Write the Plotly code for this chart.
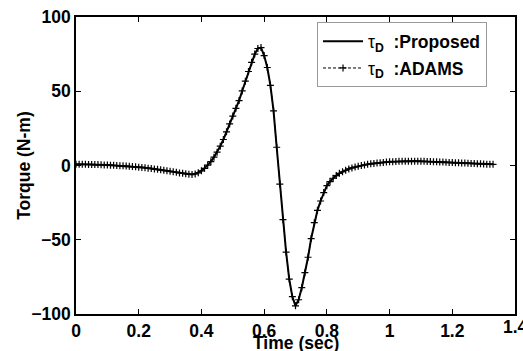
import numpy as np
import plotly.graph_objects as go

# Time samples (s), 0.01 s spacing, 0 .. 1.33
time_s = np.round(np.arange(134) * 0.01, 2).tolist()

# Torque (N-m)
torque_proposed = [
    0.8, 0.8, 0.8, 0.8, 0.7, 0.7, 0.6, 0.6, 0.5, 0.4,
    0.3, 0.2, 0.1, 0.0, -0.1, -0.2, -0.4, -0.5, -0.7, -0.9,
    -1.1, -1.3, -1.5, -1.8, -2.0, -2.3, -2.6, -2.9, -3.2, -3.5,
    -3.9, -4.2, -4.6, -5.0, -5.3, -5.6, -5.9, -6.0, -5.7, -4.9,
    -3.6, -1.9, 0.2, 2.6, 5.6, 9.0, 13.0, 17.5, 22.7, 28.0,
    33.3, 38.5, 43.7, 50.2, 56.8, 63.3, 69.5, 75.0, 78.8, 79.4,
    74.0, 66.0, 54.0, 36.8, 12.3, -12.5, -36.5, -58.3, -76.5, -88.3,
    -94.5, -90.4, -82.3, -72.2, -61.8, -49.2, -38.5, -30.2, -23.9, -18.2,
    -13.6, -10.8, -8.6, -6.8, -5.3, -4.2, -3.2, -2.3, -1.6, -1.0,
    -0.5, 0.0, 0.4, 0.8, 1.1, 1.4, 1.7, 1.9, 2.1, 2.3,
    2.5, 2.6, 2.7, 2.8, 2.8, 2.9, 2.9, 2.9, 2.9, 2.9,
    2.8, 2.8, 2.7, 2.7, 2.6, 2.5, 2.4, 2.3, 2.2, 2.1,
    2.0, 1.9, 1.8, 1.7, 1.6, 1.5, 1.4, 1.3, 1.2, 1.1,
    1.0, 0.9, 0.8, 0.8,
]
torque_adams = [
    0.8, 0.8, 0.8, 0.8, 0.7, 0.7, 0.6, 0.6, 0.5, 0.4,
    0.3, 0.2, 0.1, 0.0, -0.1, -0.2, -0.4, -0.5, -0.7, -0.9,
    -1.1, -1.3, -1.5, -1.8, -2.0, -2.3, -2.6, -2.9, -3.2, -3.5,
    -3.9, -4.2, -4.6, -5.0, -5.3, -5.6, -5.9, -6.0, -5.7, -4.9,
    -3.6, -1.9, 0.2, 2.6, 5.6, 9.0, 13.0, 17.5, 22.7, 28.0,
    33.3, 38.5, 43.7, 50.2, 56.8, 63.3, 69.5, 75.0, 78.8, 79.4,
    74.0, 66.0, 54.0, 36.8, 12.3, -12.5, -36.5, -58.3, -76.5, -88.3,
    -94.5, -90.4, -82.3, -72.2, -61.8, -49.2, -38.5, -30.2, -23.9, -18.2,
    -13.6, -10.8, -8.6, -6.8, -5.3, -4.2, -3.2, -2.3, -1.6, -1.0,
    -0.5, 0.0, 0.4, 0.8, 1.1, 1.4, 1.7, 1.9, 2.1, 2.3,
    2.5, 2.6, 2.7, 2.8, 2.8, 2.9, 2.9, 2.9, 2.9, 2.9,
    2.8, 2.8, 2.7, 2.7, 2.6, 2.5, 2.4, 2.3, 2.2, 2.1,
    2.0, 1.9, 1.8, 1.7, 1.6, 1.5, 1.4, 1.3, 1.2, 1.1,
    1.0, 0.9, 0.8, 0.8,
]

series_names = [
    '<span style="font-weight:normal">τ</span><sub>D</sub>&nbsp; :Proposed',
    '<span style="font-weight:normal">τ</span><sub>D</sub>&nbsp; :ADAMS',
]

x_ticks = [0, 0.2, 0.4, 0.6, 0.8, 1.0, 1.2]
x_tick_text = ["0", "0.2", "0.4", "0.6", "0.8", "1", "1.2"]
x_last_tick = 1.4
x_last_tick_text = "1.4"

FONT = "Liberation Sans, Arial, sans-serif"
FS = 17.5

fig = go.Figure()
fig.add_trace(go.Scatter(
    x=time_s, y=torque_proposed, name=series_names[0], mode="lines",
    legendgroup="a",
    line=dict(color="black", width=2),
))
fig.add_trace(go.Scatter(
    x=time_s, y=torque_adams, name=series_names[1], mode="lines+markers",
    legendgroup="b",
    line=dict(color="black", width=1, dash="3px,2px"),
    marker=dict(symbol="cross-thin", size=5, line=dict(color="black", width=1.2)),
))

axis_common = dict(
    showline=True, linecolor="black", linewidth=1.5, mirror="ticks",
    ticks="inside", ticklen=5, tickwidth=1.2, tickcolor="black",
    showgrid=False, zeroline=False,
    tickfont=dict(family=FONT, size=FS, color="black", weight="bold"),
)

title_font = dict(family=FONT, size=FS, color="black", weight="bold")

fig.update_layout(
    width=523, height=351,
    margin=dict(l=76, r=8, t=17, b=37),
    paper_bgcolor="white", plot_bgcolor="white",
    font=dict(family=FONT, color="black"),
    showlegend=True,
    legend=dict(
        x=0.549, y=0.982, xanchor="left", yanchor="top",
        bgcolor="white", bordercolor="#9a9a9a", borderwidth=1,
        font=dict(family=FONT, size=FS, color="black", weight="bold"),
        tracegroupgap=1, itemwidth=40,
    ),
    xaxis=dict(
        range=[0, 1.4], tickvals=x_ticks + [x_last_tick],
        ticktext=x_tick_text + [""],
        automargin=False,
        **axis_common,
    ),
    yaxis=dict(
        range=[-100, 100], dtick=50, tick0=0,
        automargin=False,
        **axis_common,
    ),
    annotations=[
        dict(text=x_last_tick_text, x=x_last_tick, xref="x", y=-0.0438, yref="paper",
             xanchor="center", yanchor="middle", showarrow=False, font=title_font),
        dict(text="Time (sec)", x=0.5, xref="paper", y=-0.099, yref="paper",
             xanchor="center", yanchor="middle", showarrow=False, font=title_font),
        dict(text="Torque (N-m)", x=-0.12, xref="paper", y=0.5, yref="paper",
             xanchor="center", yanchor="middle", textangle=-90, showarrow=False,
             font=title_font),
    ],
)

fig.write_html("out.html", config={"displayModeBar": False},
               post_script="document.body.style.margin='0px';")
